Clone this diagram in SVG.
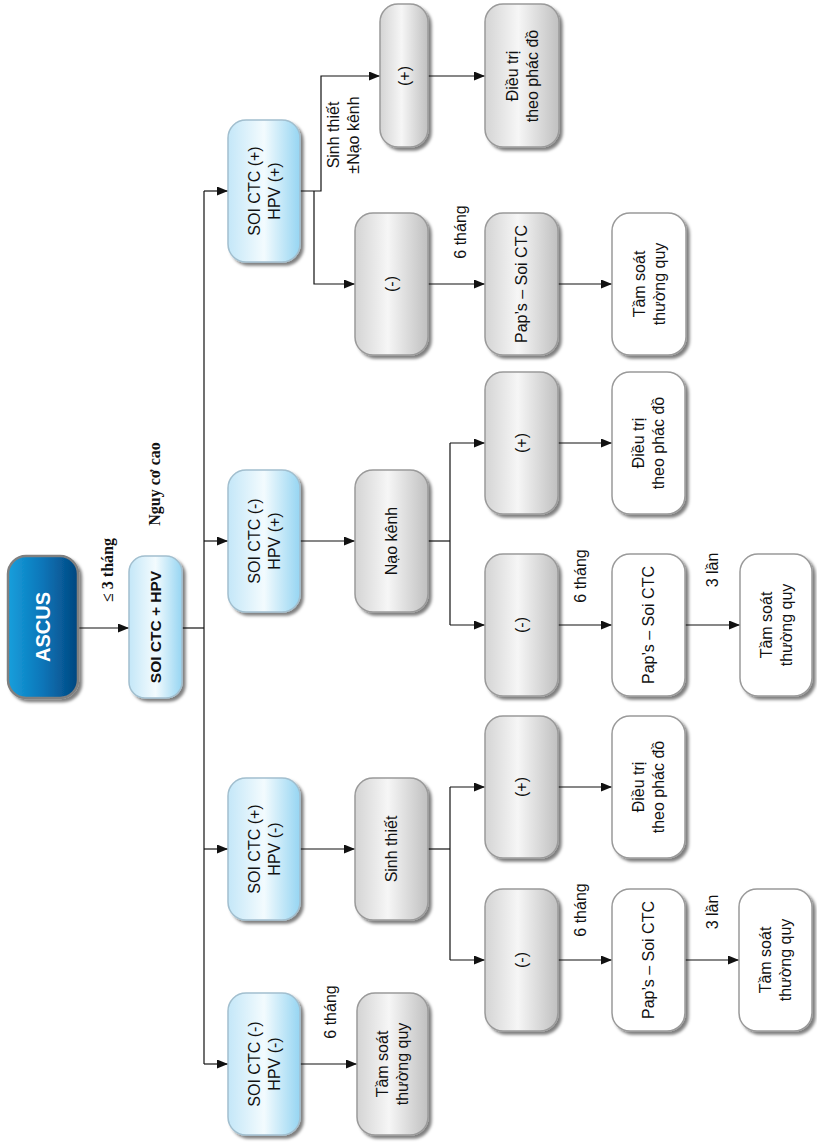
<svg xmlns="http://www.w3.org/2000/svg" width="817" height="1143" viewBox="0 0 817 1143">
  <style>
    .ln { fill: none; stroke: #111; stroke-width: 1.2; }
    .arr { marker-end: url(#ah); }
    .box { stroke-width: 1.5; filter: url(#sh); }
    .gray { fill: url(#gGray); stroke: #9a9a9a; }
    .white { fill: #ffffff; stroke: #9a9a9a; }
    .blue { fill: url(#gBlue); stroke: #a2bfcf; }
    .dark { fill: url(#gDark); stroke: #808080; stroke-width: 2.5; }
    .t { font-family: "Liberation Sans", Arial, sans-serif; font-size: 16px; fill: #111; text-anchor: middle; }
    .tb { font-family: "Liberation Sans", Arial, sans-serif; font-weight: bold; text-anchor: middle; fill: #111; }
    .ts { font-family: "Liberation Serif", "Times New Roman", serif; font-weight: bold; font-size: 16px; fill: #111; text-anchor: middle; }
  </style>
  <defs>
    <linearGradient id="gGray" x1="0" y1="0" x2="1" y2="0">
      <stop offset="0" stop-color="#d4d4d4"/>
      <stop offset="0.45" stop-color="#f6f6f6"/>
      <stop offset="1" stop-color="#c0c0c0"/>
    </linearGradient>
    <linearGradient id="gBlue" x1="0" y1="0" x2="1" y2="0">
      <stop offset="0" stop-color="#c4e7f8"/>
      <stop offset="0.5" stop-color="#f3fbfe"/>
      <stop offset="1" stop-color="#96d5f2"/>
    </linearGradient>
    <linearGradient id="gDark" x1="0" y1="0" x2="1" y2="0">
      <stop offset="0" stop-color="#169fdc"/>
      <stop offset="0.5" stop-color="#0b75b8"/>
      <stop offset="1" stop-color="#03467f"/>
    </linearGradient>
    <filter id="sh" x="-20%" y="-10%" width="150%" height="130%">
      <feDropShadow dx="3" dy="3" stdDeviation="1.8" flood-color="#000" flood-opacity="0.5"/>
    </filter>
    <marker id="ah" viewBox="0 0 11 9" refX="11" refY="4.5" markerWidth="11" markerHeight="9" markerUnits="userSpaceOnUse" orient="auto">
      <path d="M0,0 L11,4.5 L0,9 z" fill="#111"/>
    </marker>
  </defs>

  <!-- connectors -->
  <g id="connectors">
    <path class="ln arr" d="M78,628 H129"/>
    <path class="ln" d="M182,628 H204"/>
    <path class="ln" d="M204,191 V1064"/>
    <path class="ln arr" d="M204,191 H228"/>
    <path class="ln arr" d="M204,541 H228"/>
    <path class="ln arr" d="M204,849 H228"/>
    <path class="ln arr" d="M204,1064 H228"/>

    <!-- upper branch -->
    <path class="ln arr" d="M300,191 H321 V76 H380"/>
    <path class="ln arr" d="M314,191 V284 H355"/>
    <path class="ln arr" d="M428,76 H485"/>
    <path class="ln arr" d="M428,284 H485"/>
    <path class="ln arr" d="M558,284 H612"/>

    <!-- second branch -->
    <path class="ln arr" d="M300,541 H355"/>
    <path class="ln" d="M428,541 H450"/>
    <path class="ln" d="M450,443 V625"/>
    <path class="ln arr" d="M450,443 H485"/>
    <path class="ln arr" d="M450,625 H485"/>
    <path class="ln arr" d="M558,443 H612"/>
    <path class="ln arr" d="M558,625 H612"/>
    <path class="ln arr" d="M685,625 H740"/>

    <!-- third branch -->
    <path class="ln arr" d="M300,849 H355"/>
    <path class="ln" d="M428,849 H450"/>
    <path class="ln" d="M450,787 V960"/>
    <path class="ln arr" d="M450,787 H485"/>
    <path class="ln arr" d="M450,960 H485"/>
    <path class="ln arr" d="M558,787 H612"/>
    <path class="ln arr" d="M558,960 H612"/>
    <path class="ln arr" d="M685,960 H739"/>

    <!-- fourth branch -->
    <path class="ln arr" d="M300,1064 H357"/>
  </g>

  <!-- connector labels -->
  <g id="labels">
    <text class="ts" transform="translate(107,570) rotate(-90)" y="5.5">≤ 3 tháng</text>
    <text class="ts" transform="translate(154,484) rotate(-90)" y="5.5">Nguy cơ cao</text>
    <text class="t" transform="translate(343,135) rotate(-90)"><tspan x="0" y="-4.4">Sinh thiết</tspan><tspan x="0" y="15.6">±Nạo kênh</tspan></text>
    <text class="t" transform="translate(460,232) rotate(-90)" y="5.6">6 tháng</text>
    <text class="t" transform="translate(580,576) rotate(-90)" y="5.6">6 tháng</text>
    <text class="t" transform="translate(712,570) rotate(-90)" y="5.6">3 lần</text>
    <text class="t" transform="translate(580,910) rotate(-90)" y="5.6">6 tháng</text>
    <text class="t" transform="translate(712,912) rotate(-90)" y="5.6">3 lần</text>
    <text class="t" transform="translate(330,1012) rotate(-90)" y="5.6">6 tháng</text>
  </g>

  <!-- root -->
  <g id="ascus">
    <rect class="box dark" x="8" y="556" width="70" height="142" rx="18"/>
    <text class="tb" style="font-size:20px;fill:#fff" transform="translate(43,627) rotate(-90)" y="7">ASCUS</text>
  </g>
  <g id="soi-hpv">
    <rect class="box blue" x="129" y="556" width="53" height="142" rx="16"/>
    <text class="tb" style="font-size:15.5px" transform="translate(155.5,627) rotate(-90)" y="5.4">SOI CTC + HPV</text>
  </g>

  <!-- second level -->
  <g id="soi-pos-hpv-pos">
    <rect class="box blue" x="228" y="120" width="72" height="142" rx="18"/>
    <text class="t" transform="translate(264,191) rotate(-90)"><tspan x="0" y="-4.4">SOI CTC (+)</tspan><tspan x="0" y="15.6">HPV (+)</tspan></text>
  </g>
  <g id="soi-neg-hpv-pos">
    <rect class="box blue" x="228" y="470" width="72" height="142" rx="18"/>
    <text class="t" transform="translate(264,541) rotate(-90)"><tspan x="0" y="-4.4">SOI CTC (-)</tspan><tspan x="0" y="15.6">HPV (+)</tspan></text>
  </g>
  <g id="soi-pos-hpv-neg">
    <rect class="box blue" x="228" y="778" width="72" height="142" rx="18"/>
    <text class="t" transform="translate(264,849) rotate(-90)"><tspan x="0" y="-4.4">SOI CTC (+)</tspan><tspan x="0" y="15.6">HPV (-)</tspan></text>
  </g>
  <g id="soi-neg-hpv-neg">
    <rect class="box blue" x="228" y="993" width="72" height="142" rx="18"/>
    <text class="t" transform="translate(264,1064) rotate(-90)"><tspan x="0" y="-4.4">SOI CTC (-)</tspan><tspan x="0" y="15.6">HPV (-)</tspan></text>
  </g>

  <!-- upper branch nodes -->
  <g id="a-pos">
    <rect class="box gray" x="380" y="4" width="48" height="143" rx="18"/>
    <text class="t" transform="translate(404,76) rotate(-90)" y="5.6">(+)</text>
  </g>
  <g id="a-treat">
    <rect class="box gray" x="485" y="4" width="74" height="143" rx="18"/>
    <text class="t" transform="translate(522,76) rotate(-90)"><tspan x="0" y="-4.4">Điều trị</tspan><tspan x="0" y="15.6">theo phác đồ</tspan></text>
  </g>
  <g id="a-neg">
    <rect class="box gray" x="355" y="213" width="73" height="142" rx="18"/>
    <text class="t" transform="translate(391.5,284) rotate(-90)" y="5.6">(-)</text>
  </g>
  <g id="a-pap">
    <rect class="box gray" x="485" y="213" width="73" height="142" rx="18"/>
    <text class="t" transform="translate(521.5,284) rotate(-90)" y="5.6">Pap’s – Soi CTC</text>
  </g>
  <g id="a-screen">
    <rect class="box white" x="612" y="213" width="74" height="142" rx="18"/>
    <text class="t" transform="translate(649,284) rotate(-90)"><tspan x="0" y="-4.4">Tầm soát</tspan><tspan x="0" y="15.6">thường quy</tspan></text>
  </g>

  <!-- second branch nodes -->
  <g id="b-curettage">
    <rect class="box gray" x="355" y="470" width="73" height="142" rx="18"/>
    <text class="t" transform="translate(391.5,541) rotate(-90)" y="5.6">Nạo kênh</text>
  </g>
  <g id="b-pos">
    <rect class="box gray" x="485" y="372" width="73" height="142" rx="18"/>
    <text class="t" transform="translate(521.5,443) rotate(-90)" y="5.6">(+)</text>
  </g>
  <g id="b-treat">
    <rect class="box white" x="612" y="372" width="73" height="142" rx="18"/>
    <text class="t" transform="translate(648.5,443) rotate(-90)"><tspan x="0" y="-4.4">Điều trị</tspan><tspan x="0" y="15.6">theo phác đồ</tspan></text>
  </g>
  <g id="b-neg">
    <rect class="box gray" x="485" y="554" width="73" height="142" rx="18"/>
    <text class="t" transform="translate(521.5,625) rotate(-90)" y="5.6">(-)</text>
  </g>
  <g id="b-pap">
    <rect class="box white" x="612" y="554" width="73" height="142" rx="18"/>
    <text class="t" transform="translate(648.5,625) rotate(-90)" y="5.6">Pap’s – Soi CTC</text>
  </g>
  <g id="b-screen">
    <rect class="box white" x="740" y="554" width="72" height="142" rx="18"/>
    <text class="t" transform="translate(776,625) rotate(-90)"><tspan x="0" y="-4.4">Tầm soát</tspan><tspan x="0" y="15.6">thường quy</tspan></text>
  </g>

  <!-- third branch nodes -->
  <g id="c-biopsy">
    <rect class="box gray" x="355" y="778" width="73" height="142" rx="18"/>
    <text class="t" transform="translate(391.5,849) rotate(-90)" y="5.6">Sinh thiết</text>
  </g>
  <g id="c-pos">
    <rect class="box gray" x="485" y="716" width="73" height="142" rx="18"/>
    <text class="t" transform="translate(521.5,787) rotate(-90)" y="5.6">(+)</text>
  </g>
  <g id="c-treat">
    <rect class="box white" x="612" y="716" width="73" height="142" rx="18"/>
    <text class="t" transform="translate(648.5,787) rotate(-90)"><tspan x="0" y="-4.4">Điều trị</tspan><tspan x="0" y="15.6">theo phác đồ</tspan></text>
  </g>
  <g id="c-neg">
    <rect class="box gray" x="485" y="889" width="73" height="142" rx="18"/>
    <text class="t" transform="translate(521.5,960) rotate(-90)" y="5.6">(-)</text>
  </g>
  <g id="c-pap">
    <rect class="box white" x="612" y="889" width="73" height="142" rx="18"/>
    <text class="t" transform="translate(648.5,960) rotate(-90)" y="5.6">Pap’s – Soi CTC</text>
  </g>
  <g id="c-screen">
    <rect class="box white" x="739" y="889" width="73" height="142" rx="18"/>
    <text class="t" transform="translate(775.5,960) rotate(-90)"><tspan x="0" y="-4.4">Tầm soát</tspan><tspan x="0" y="15.6">thường quy</tspan></text>
  </g>

  <!-- fourth branch node -->
  <g id="d-screen">
    <rect class="box gray" x="357" y="993" width="71" height="142" rx="18"/>
    <text class="t" transform="translate(392.5,1064) rotate(-90)"><tspan x="0" y="-4.4">Tầm soát</tspan><tspan x="0" y="15.6">thường quy</tspan></text>
  </g>
</svg>
